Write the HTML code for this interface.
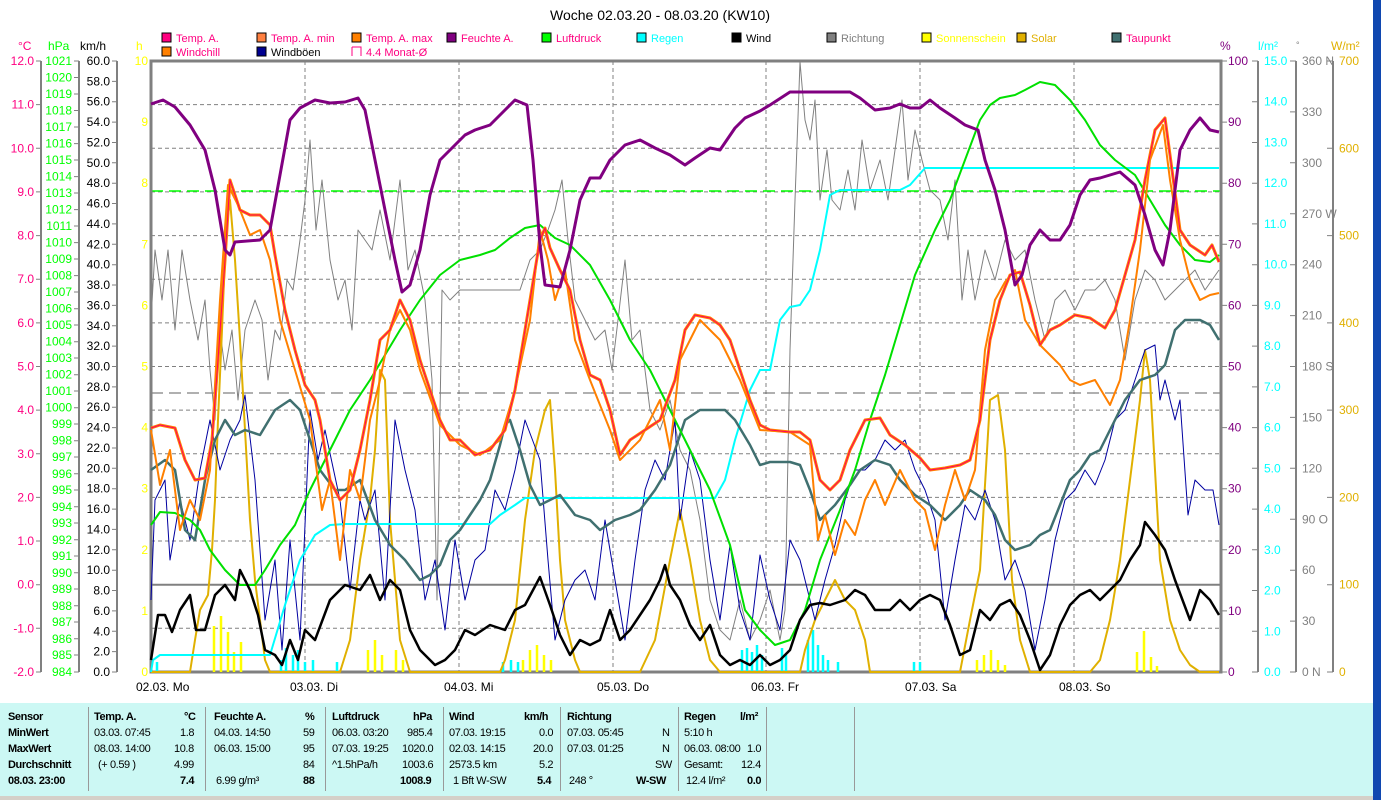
<!DOCTYPE html>
<html><head><meta charset="utf-8"><style>
body{margin:0;background:#fff;width:1381px;height:800px;overflow:hidden;font-family:"Liberation Sans",sans-serif}
svg{position:absolute;left:0;top:0}
#tbl{position:absolute;left:0;top:703px;width:1373px;height:93px;background:#ccf8f4;font-size:11px;color:#000;letter-spacing:-0.4px}
#tbl div{position:absolute;white-space:nowrap}
.b{font-weight:bold}
.sep{width:1px;background:#999;top:4px;height:84px}
</style></head><body>
<svg width="1381" height="800" xmlns="http://www.w3.org/2000/svg" font-family="Liberation Sans, sans-serif" font-size="12">
<rect x="1373" y="0" width="8" height="800" fill="#1048b0"/>
<text x="660" y="20" text-anchor="middle" font-size="14">Woche 02.03.20 - 08.03.20 (KW10)</text>
<g font-size="11">
<rect x="162" y="33" width="9" height="9" fill="#ff0080" stroke="#000"/><text x="176" y="42" fill="#ff0080">Temp. A.</text>
<rect x="257" y="33" width="9" height="9" fill="#ff8040" stroke="#000"/><text x="271" y="42" fill="#ff0080">Temp. A. min</text>
<rect x="352" y="33" width="9" height="9" fill="#ff8000" stroke="#000"/><text x="366" y="42" fill="#ff0080">Temp. A. max</text>
<rect x="447" y="33" width="9" height="9" fill="#800080" stroke="#000"/><text x="461" y="42" fill="#ff0080">Feuchte A.</text>
<rect x="542" y="33" width="9" height="9" fill="#00ff00" stroke="#000"/><text x="556" y="42" fill="#ff0080">Luftdruck</text>
<rect x="637" y="33" width="9" height="9" fill="#00ffff" stroke="#000"/><text x="651" y="42" fill="#00ffff">Regen</text>
<rect x="732" y="33" width="9" height="9" fill="#000" stroke="#000"/><text x="746" y="42" fill="#000">Wind</text>
<rect x="827" y="33" width="9" height="9" fill="#808080" stroke="#000"/><text x="841" y="42" fill="#808080">Richtung</text>
<rect x="922" y="33" width="9" height="9" fill="#ffff00" stroke="#000"/><text x="936" y="42" fill="#ffff00">Sonnenschein</text>
<rect x="1017" y="33" width="9" height="9" fill="#e0b000" stroke="#000"/><text x="1031" y="42" fill="#e0b000">Solar</text>
<rect x="1112" y="33" width="9" height="9" fill="#407070" stroke="#000"/><text x="1126" y="42" fill="#ff0080">Taupunkt</text>
<rect x="162" y="47" width="9" height="9" fill="#ff8000" stroke="#000"/><text x="176" y="56" fill="#ff0080">Windchill</text>
<rect x="257" y="47" width="9" height="9" fill="#000090" stroke="#000"/><text x="271" y="56" fill="#000">Windböen</text>
<path d="M352 47 h9 v9 M352 47 v9" fill="none" stroke="#ff0080"/><text x="366" y="56" fill="#ff0080">4.4 Monat-Ø</text>
</g>
<text x="18" y="50" fill="#ff0080">°C</text><text x="48" y="50" fill="#00ff00">hPa</text><text x="80" y="50" fill="#000">km/h</text><text x="136" y="50" fill="#ffff00">h</text>
<text x="1220" y="50" fill="#800080">%</text><text x="1258" y="50" fill="#00ffff">l/m²</text><text x="1296" y="48" fill="#808080" font-size="9">°</text><text x="1331" y="50" fill="#e0b000">W/m²</text>
<g stroke="#808080" stroke-width="2" fill="none">
<line x1="41" y1="61" x2="41" y2="672"/><line x1="79" y1="61" x2="79" y2="672"/><line x1="117" y1="61" x2="117" y2="672"/>
<line x1="1258" y1="61" x2="1258" y2="672"/><line x1="1296" y1="61" x2="1296" y2="672"/><line x1="1333" y1="61" x2="1333" y2="672"/>
</g>
<g stroke="#808080" stroke-width="1">
<path d="M36 61h5M36 104.6h5M36 148.3h5M36 191.9h5M36 235.6h5M36 279.2h5M36 322.9h5M36 366.5h5M36 410.1h5M36 453.8h5M36 497.4h5M36 541h5M36 584.7h5M36 628.3h5M36 672h5"/>
<path d="M74 61h5M74 77.5h5M74 94h5M74 110.5h5M74 127h5M74 143.6h5M74 160h5M74 176.6h5M74 193h5M74 209.6h5M74 226h5M74 242.6h5M74 259h5M74 275.6h5M74 292h5M74 308.7h5M74 325h5M74 341.7h5M74 358h5M74 374.7h5M74 391h5M74 407.7h5M74 424h5M74 440.7h5M74 457h5M74 473.8h5M74 490h5M74 506.8h5M74 523h5M74 539.8h5M74 556h5M74 572.8h5M74 589h5M74 605.8h5M74 622h5M74 638.8h5M74 655h5M74 672h5"/>
<path d="M112 61h5M112 81.4h5M112 101.7h5M112 122.1h5M112 142.5h5M112 162.8h5M112 183.2h5M112 203.5h5M112 223.9h5M112 244.3h5M112 264.7h5M112 285h5M112 305.4h5M112 325.8h5M112 346.1h5M112 366.5h5M112 386.9h5M112 407.2h5M112 427.6h5M112 448h5M112 468.3h5M112 488.7h5M112 509.1h5M112 529.4h5M112 549.8h5M112 570.2h5M112 590.5h5M112 610.9h5M112 631.3h5M112 651.6h5M112 672h5"/>
<path d="M1221 61h6M1221 122.1h6M1221 183.2h6M1221 244.3h6M1221 305.4h6M1221 366.5h6M1221 427.6h6M1221 488.7h6M1221 549.8h6M1221 610.9h6M1221 672h6"/>
<path d="M1252 61h6M1252 101.7h6M1252 142.5h6M1252 183.2h6M1252 223.9h6M1252 264.7h6M1252 305.4h6M1252 346.1h6M1252 386.9h6M1252 427.6h6M1252 468.3h6M1252 509.1h6M1252 549.8h6M1252 590.5h6M1252 631.3h6M1252 672h6"/>
<path d="M1290 61h6M1290 111.9h6M1290 162.8h6M1290 213.8h6M1290 264.7h6M1290 315.6h6M1290 366.5h6M1290 417.4h6M1290 468.3h6M1290 519.3h6M1290 570.2h6M1290 621.1h6M1290 672h6"/>
<path d="M1327 61h6M1327 148.3h6M1327 235.6h6M1327 322.9h6M1327 410.1h6M1327 497.4h6M1327 584.7h6M1327 672h6"/>
</g>
<g fill="#ff0080" text-anchor="end">
<text x="34" y="65">12.0</text><text x="34" y="108.6">11.0</text><text x="34" y="152.3">10.0</text><text x="34" y="195.9">9.0</text><text x="34" y="239.6">8.0</text><text x="34" y="283.2">7.0</text><text x="34" y="326.9">6.0</text><text x="34" y="370.5">5.0</text><text x="34" y="414.1">4.0</text><text x="34" y="457.8">3.0</text><text x="34" y="501.4">2.0</text><text x="34" y="545">1.0</text><text x="34" y="588.7">0.0</text><text x="34" y="632.3">-1.0</text><text x="34" y="676">-2.0</text>
</g>
<g fill="#00ff00" text-anchor="end">
<text x="72" y="65">1021</text><text x="72" y="81.5">1020</text><text x="72" y="98">1019</text><text x="72" y="114.5">1018</text><text x="72" y="131">1017</text><text x="72" y="147.6">1016</text><text x="72" y="164">1015</text><text x="72" y="180.6">1014</text><text x="72" y="197">1013</text><text x="72" y="213.6">1012</text><text x="72" y="230">1011</text><text x="72" y="246.6">1010</text><text x="72" y="263">1009</text><text x="72" y="279.6">1008</text><text x="72" y="296">1007</text><text x="72" y="312.7">1006</text><text x="72" y="329">1005</text><text x="72" y="345.7">1004</text><text x="72" y="362">1003</text><text x="72" y="378.7">1002</text><text x="72" y="395">1001</text><text x="72" y="411.7">1000</text><text x="72" y="428">999</text><text x="72" y="444.7">998</text><text x="72" y="461">997</text><text x="72" y="477.8">996</text><text x="72" y="494">995</text><text x="72" y="510.8">994</text><text x="72" y="527">993</text><text x="72" y="543.8">992</text><text x="72" y="560">991</text><text x="72" y="576.8">990</text><text x="72" y="593">989</text><text x="72" y="609.8">988</text><text x="72" y="626">987</text><text x="72" y="642.8">986</text><text x="72" y="659">985</text><text x="72" y="676">984</text>
</g>
<g fill="#000" text-anchor="end">
<text x="110" y="65">60.0</text><text x="110" y="85.4">58.0</text><text x="110" y="105.7">56.0</text><text x="110" y="126.1">54.0</text><text x="110" y="146.5">52.0</text><text x="110" y="166.8">50.0</text><text x="110" y="187.2">48.0</text><text x="110" y="207.5">46.0</text><text x="110" y="227.9">44.0</text><text x="110" y="248.3">42.0</text><text x="110" y="268.7">40.0</text><text x="110" y="289">38.0</text><text x="110" y="309.4">36.0</text><text x="110" y="329.8">34.0</text><text x="110" y="350.1">32.0</text><text x="110" y="370.5">30.0</text><text x="110" y="390.9">28.0</text><text x="110" y="411.2">26.0</text><text x="110" y="431.6">24.0</text><text x="110" y="452">22.0</text><text x="110" y="472.3">20.0</text><text x="110" y="492.7">18.0</text><text x="110" y="513.1">16.0</text><text x="110" y="533.4">14.0</text><text x="110" y="553.8">12.0</text><text x="110" y="574.2">10.0</text><text x="110" y="594.5">8.0</text><text x="110" y="614.9">6.0</text><text x="110" y="635.3">4.0</text><text x="110" y="655.6">2.0</text><text x="110" y="676">0.0</text>
</g>
<g fill="#ffff00" text-anchor="end">
<text x="148" y="65">10</text><text x="148" y="126.1">9</text><text x="148" y="187.2">8</text><text x="148" y="248.3">7</text><text x="148" y="309.4">6</text><text x="148" y="370.5">5</text><text x="148" y="431.6">4</text><text x="148" y="492.7">3</text><text x="148" y="553.8">2</text><text x="148" y="614.9">1</text><text x="148" y="676">0</text>
</g>
<g fill="#800080">
<text x="1228" y="65">100</text><text x="1228" y="126.1">90</text><text x="1228" y="187.2">80</text><text x="1228" y="248.3">70</text><text x="1228" y="309.4">60</text><text x="1228" y="370.5">50</text><text x="1228" y="431.6">40</text><text x="1228" y="492.7">30</text><text x="1228" y="553.8">20</text><text x="1228" y="614.9">10</text><text x="1228" y="676">0</text>
</g>
<g fill="#00ffff">
<text x="1264" y="65">15.0</text><text x="1264" y="105.7">14.0</text><text x="1264" y="146.5">13.0</text><text x="1264" y="187.2">12.0</text><text x="1264" y="227.9">11.0</text><text x="1264" y="268.7">10.0</text><text x="1264" y="309.4">9.0</text><text x="1264" y="350.1">8.0</text><text x="1264" y="390.9">7.0</text><text x="1264" y="431.6">6.0</text><text x="1264" y="472.3">5.0</text><text x="1264" y="513.1">4.0</text><text x="1264" y="553.8">3.0</text><text x="1264" y="594.5">2.0</text><text x="1264" y="635.3">1.0</text><text x="1264" y="676">0.0</text>
</g>
<g fill="#808080">
<text x="1302" y="65">360 N</text><text x="1302" y="115.9">330</text><text x="1302" y="166.8">300</text><text x="1302" y="217.8">270 W</text><text x="1302" y="268.7">240</text><text x="1302" y="319.6">210</text><text x="1302" y="370.5">180 S</text><text x="1302" y="421.4">150</text><text x="1302" y="472.3">120</text><text x="1302" y="523.3">90  O</text><text x="1302" y="574.2">60</text><text x="1302" y="625.1">30</text><text x="1302" y="676">0   N</text>
</g>
<g fill="#e0b000">
<text x="1339" y="65">700</text><text x="1339" y="152.3">600</text><text x="1339" y="239.6">500</text><text x="1339" y="326.9">400</text><text x="1339" y="414.1">300</text><text x="1339" y="501.4">200</text><text x="1339" y="588.7">100</text><text x="1339" y="676">0</text>
</g>
<g fill="#000">
<text x="136" y="691">02.03.  Mo</text><text x="290" y="691">03.03.  Di</text><text x="444" y="691">04.03.  Mi</text><text x="597" y="691">05.03.  Do</text><text x="751" y="691">06.03.  Fr</text><text x="905" y="691">07.03.  Sa</text><text x="1059" y="691">08.03.  So</text>
</g>
<g stroke="#808080" stroke-width="1" stroke-dasharray="4,3">
<path d="M151 104.6H1221M151 148.3H1221M151 191.9H1221M151 235.6H1221M151 279.2H1221M151 322.9H1221M151 366.5H1221M151 410.1H1221M151 453.8H1221M151 497.4H1221M151 541H1221M151 628.3H1221"/>
<path d="M305 61V672M459 61V672M613 61V672M766 61V672M920 61V672M1074 61V672"/>
</g>
<line x1="151" y1="584.7" x2="1221" y2="584.7" stroke="#808080" stroke-width="2"/>
<line x1="151" y1="393" x2="1221" y2="393" stroke="#606060" stroke-width="1" stroke-dasharray="12,6"/>
<line x1="151" y1="191" x2="1221" y2="191" stroke="#00ff00" stroke-width="1.5" stroke-dasharray="12,6"/>
<rect x="151" y="61" width="1070" height="611" fill="none" stroke="#808080" stroke-width="3"/>
<g stroke="#ffff00" stroke-width="2.5">
<path d="M214 672V626M221 672V616M228 672V632M234 672V652M241 672V642M368 672V650M375 672V640M382 672V655M396 672V650M403 672V660M523 672V660M530 672V650M537 672V645M544 672V655M551 672V660M977 672V660M984 672V655M991 672V650M998 672V660M1005 672V665M1137 672V652M1144 672V631M1151 672V657M1157 672V666"/>
</g>
<g stroke="#00ffff" stroke-width="2.5">
<path d="M157 672V662M281 672V660M286 672V648M293 672V655M298 672V650M305 672V662M313 672V660M337 672V662M503 672V662M511 672V660M518 672V662M742 672V650M747 672V648M752 672V652M757 672V645M762 672V655M782 672V648M786 672V655M808 672V640M813 672V630M818 672V645M823 672V655M828 672V660M838 672V662M914 672V662M920 672V662"/>
</g>
<g fill="none" stroke-linejoin="round">
<polyline stroke="#808080" stroke-width="1" points="151,320 155,250 162,300 168,250 175,330 182,250 190,300 198,340 205,300 210,370 215,420 220,330 225,370 232,330 238,400 245,330 255,300 262,320 268,380 275,330 280,340 287,280 293,290 300,240 305,200 310,140 316,230 322,180 330,260 338,300 345,280 352,330 358,230 365,240 372,250 380,210 390,260 400,180 408,270 415,250 425,300 432,380 437,600 442,290 450,300 460,290 500,290 520,290 530,260 540,250 548,230 555,210 562,180 568,240 575,300 585,320 595,340 605,330 612,370 618,320 625,260 632,340 640,330 650,410 660,430 670,400 680,450 690,470 700,520 710,600 720,630 730,640 740,600 750,640 760,620 770,590 780,640 785,610 790,350 795,200 800,62 805,120 810,140 815,100 820,200 827,150 832,200 840,210 848,170 855,210 862,140 870,190 880,160 888,200 895,150 902,100 908,180 915,130 922,160 930,190 940,200 948,240 955,180 962,300 968,250 975,300 985,250 995,280 1005,240 1015,260 1025,250 1035,300 1045,340 1055,300 1065,290 1075,310 1085,290 1095,290 1105,280 1115,300 1125,360 1135,300 1145,270 1155,280 1165,300 1175,290 1185,280 1195,270 1205,290 1219,270"/>
<polyline stroke="#e0b000" stroke-width="2" points="151,672 190,672 195,640 200,610 208,595 212,550 215,500 218,420 222,330 226,230 230,200 235,260 240,340 245,430 250,520 255,580 260,620 265,660 270,672 340,672 350,640 360,560 370,500 375,450 380,370 385,380 390,520 400,640 410,672 500,672 505,660 515,620 525,520 535,450 545,410 550,400 555,470 560,560 565,620 575,660 580,672 640,672 655,640 670,560 680,510 690,560 700,620 710,660 720,672 800,672 805,650 815,620 825,600 835,580 845,600 855,610 865,640 870,672 960,672 970,620 980,570 990,400 998,395 1005,450 1012,580 1020,640 1030,672 1090,672 1100,660 1110,620 1120,560 1130,480 1140,400 1145,350 1150,380 1155,470 1160,560 1170,620 1180,650 1190,665 1200,672 1219,672"/>
<polyline stroke="#0000a0" stroke-width="1" points="151,600 155,500 165,480 170,560 180,500 190,540 200,470 210,420 220,470 230,440 240,420 245,395 255,480 265,620 275,560 282,650 290,540 300,640 310,410 318,460 325,430 340,500 350,590 360,500 365,520 375,490 385,600 395,420 405,470 415,510 425,600 435,560 445,630 455,540 465,600 475,560 485,550 495,490 505,510 515,470 525,420 540,460 548,560 555,640 565,600 575,580 585,570 595,600 605,520 615,580 625,640 635,560 645,490 655,460 665,480 675,420 680,520 690,450 700,480 710,560 720,620 730,545 740,610 750,640 760,555 770,600 780,630 790,540 800,560 810,600 815,620 825,580 835,545 845,500 855,470 865,470 875,460 885,440 895,450 905,440 915,470 925,490 935,520 945,620 955,560 965,505 975,520 985,490 995,520 1005,580 1015,560 1025,590 1035,650 1045,600 1055,540 1065,500 1075,490 1085,470 1095,485 1105,460 1115,420 1125,410 1135,380 1145,350 1155,345 1160,400 1165,380 1175,420 1180,400 1188,515 1195,480 1205,490 1213,490 1219,525"/>
<polyline stroke="#00ffff" stroke-width="2" points="151,672 153,660 160,655 270,655 285,605 300,560 315,535 330,525 345,524 490,524 500,515 515,505 525,498 715,498 725,480 735,440 750,390 760,370 770,370 780,320 790,307 800,305 810,290 820,250 830,195 840,190 900,190 910,185 925,168 1219,168"/>
<polyline stroke="#407070" stroke-width="2.5" points="151,470 165,460 175,470 185,530 195,540 205,480 215,440 225,420 235,435 245,430 260,435 275,410 290,400 300,410 310,440 320,470 335,490 345,490 360,480 375,520 390,545 405,560 420,580 430,575 440,565 450,540 460,530 470,515 480,500 490,480 500,445 505,425 510,420 520,450 530,485 540,505 550,500 560,495 575,515 590,520 600,530 615,520 630,515 640,510 655,490 670,465 685,420 700,410 725,410 735,420 750,445 760,465 770,462 790,462 800,465 810,490 820,520 835,505 850,485 860,470 875,460 890,465 900,480 915,495 930,505 945,520 960,505 970,490 985,500 995,515 1005,540 1015,550 1030,545 1040,535 1050,530 1060,505 1070,480 1080,470 1090,455 1100,450 1110,430 1125,400 1140,380 1155,375 1165,365 1175,330 1185,320 1200,320 1210,325 1219,340"/>
<polyline stroke="#00e000" stroke-width="2" points="151,525 160,512 175,513 190,520 200,530 210,550 225,570 240,585 255,585 265,570 280,545 295,525 310,490 330,450 350,410 370,380 385,355 400,330 420,300 440,275 460,260 480,255 495,250 510,238 525,228 540,225 555,238 570,245 590,265 610,300 630,340 650,370 670,410 690,450 710,490 730,545 745,610 760,630 775,645 790,640 805,610 820,560 840,510 855,470 870,420 885,375 900,325 915,275 935,230 950,200 965,160 980,120 990,105 1000,98 1015,95 1025,90 1040,82 1055,85 1070,100 1085,120 1100,145 1115,160 1135,175 1150,200 1165,225 1180,245 1195,260 1210,262 1219,255"/>
<polyline stroke="#000" stroke-width="2.5" points="151,660 158,615 165,615 172,632 180,610 190,595 196,630 205,630 215,595 225,585 235,600 240,570 250,590 258,615 265,650 275,655 282,665 290,640 298,660 305,630 315,640 330,600 345,585 360,590 370,575 380,600 390,580 400,590 410,630 420,650 435,665 445,660 455,650 465,630 475,635 490,625 505,630 515,610 525,605 540,577 550,605 560,635 570,655 580,640 590,645 600,640 610,610 620,640 630,630 640,615 650,600 660,580 665,565 670,585 680,600 690,625 700,640 710,625 720,655 730,665 740,660 750,665 760,655 770,665 780,660 790,650 800,620 810,605 820,603 830,605 845,600 855,590 865,595 875,610 890,610 900,600 910,610 920,600 930,595 940,600 950,625 960,655 970,650 980,610 990,620 1000,605 1010,600 1020,615 1030,640 1040,670 1050,655 1060,625 1070,605 1080,595 1090,590 1100,600 1110,590 1120,580 1130,560 1140,545 1145,522 1155,535 1165,550 1175,580 1190,620 1200,590 1210,600 1219,615"/>
<polyline stroke="#ff8000" stroke-width="2" points="151,430 160,485 170,450 180,530 190,500 200,520 210,470 220,300 228,185 238,205 250,235 260,230 270,260 280,320 295,370 310,420 322,510 330,480 340,560 350,470 360,500 370,420 380,380 390,330 400,310 410,330 420,370 440,425 460,445 480,455 500,440 515,390 530,320 540,230 548,260 555,300 565,270 575,340 590,380 610,430 620,460 640,440 660,400 670,450 680,360 690,340 700,320 710,330 720,340 740,380 760,430 790,432 810,445 818,540 825,515 835,555 845,520 855,535 865,500 875,480 885,505 900,470 915,500 925,510 935,550 945,505 955,470 965,500 975,470 985,350 995,300 1005,282 1015,270 1025,320 1040,345 1050,355 1060,365 1070,380 1080,385 1095,380 1110,405 1120,380 1130,320 1140,250 1150,160 1163,125 1170,180 1180,240 1190,280 1200,300 1210,295 1219,293"/>
<polyline stroke="#ff8000" stroke-width="3" points="151,428 160,425 175,428 185,460 195,480 205,478 212,440 218,360 225,260 230,180 240,210 250,215 260,215 270,225 275,255 285,310 295,350 305,385 315,400 320,420 330,480 340,500 350,490 360,450 370,400 380,340 390,330 400,300 410,320 420,360 430,390 440,420 450,440 460,440 475,455 490,450 505,430 515,390 525,330 540,240 545,228 550,248 560,270 570,290 580,340 590,375 600,380 610,410 620,455 630,440 645,430 660,420 675,380 685,330 695,315 710,318 720,325 730,340 740,370 750,400 760,425 770,430 790,432 800,432 810,440 820,480 830,490 840,480 850,450 865,420 880,418 890,435 905,445 920,458 930,470 945,468 960,465 970,460 980,420 990,340 1000,300 1010,275 1020,272 1030,305 1040,345 1050,330 1060,325 1075,315 1090,318 1105,328 1115,310 1125,275 1135,240 1145,180 1155,130 1165,118 1170,155 1180,230 1190,245 1205,255 1212,245 1219,262"/>
<polyline stroke="#ff0060" stroke-width="1" points="151,428 160,425 175,428 185,460 195,480 205,478 212,440 218,360 225,260 230,180 240,210 250,215 260,215 270,225 275,255 285,310 295,350 305,385 315,400 320,420 330,480 340,500 350,490 360,450 370,400 380,340 390,330 400,300 410,320 420,360 430,390 440,420 450,440 460,440 475,455 490,450 505,430 515,390 525,330 540,240 545,228 550,248 560,270 570,290 580,340 590,375 600,380 610,410 620,455 630,440 645,430 660,420 675,380 685,330 695,315 710,318 720,325 730,340 740,370 750,400 760,425 770,430 790,432 800,432 810,440 820,480 830,490 840,480 850,450 865,420 880,418 890,435 905,445 920,458 930,470 945,468 960,465 970,460 980,420 990,340 1000,300 1010,275 1020,272 1030,305 1040,345 1050,330 1060,325 1075,315 1090,318 1105,328 1115,310 1125,275 1135,240 1145,180 1155,130 1165,118 1170,155 1180,230 1190,245 1205,255 1212,245 1219,262"/>
<polyline stroke="#800080" stroke-width="3" points="151,104 163,100 175,107 190,125 205,150 215,190 225,250 230,255 235,242 260,240 270,230 280,175 290,120 300,108 315,100 330,103 345,102 358,98 365,110 375,160 385,210 395,260 402,292 410,285 420,250 430,195 440,160 455,145 465,135 475,130 490,125 505,110 515,100 527,105 533,160 540,245 545,285 560,287 570,250 580,200 590,178 600,178 610,160 625,145 640,140 655,148 670,155 685,165 695,158 710,148 720,150 735,128 745,118 760,111 770,105 790,92 850,92 860,98 875,110 890,108 900,104 910,108 920,108 930,100 940,108 955,118 965,125 978,130 985,160 995,190 1005,230 1015,285 1022,275 1030,245 1040,230 1050,240 1060,240 1070,225 1080,195 1090,180 1100,178 1110,175 1120,172 1135,185 1145,215 1155,250 1163,265 1170,230 1180,150 1190,130 1200,118 1210,130 1219,132"/>
</g>
<rect x="0" y="796" width="1373" height="4" fill="#d4d0c8"/>
</svg>
<div id="tbl">
<div class="sep" style="left:88px"></div><div class="sep" style="left:205px"></div><div class="sep" style="left:325px"></div><div class="sep" style="left:443px"></div><div class="sep" style="left:560px"></div><div class="sep" style="left:678px"></div><div class="sep" style="left:766px"></div><div class="sep" style="left:854px"></div>
<div class="b" style="left:8px;top:8px">Sensor</div><div class="b" style="left:8px;top:24px">MinWert</div><div class="b" style="left:8px;top:40px">MaxWert</div><div class="b" style="left:8px;top:56px">Durchschnitt</div><div class="b" style="left:8px;top:72px">08.03. 23:00</div>
<div class="b" style="left:94px;top:8px">Temp. A.</div><div class="b" style="left:184px;top:8px">°C</div>
<div style="left:94px;top:24px">03.03. 07:45</div><div style="left:180px;top:24px">1.8</div>
<div style="left:94px;top:40px">08.03. 14:00</div><div style="left:174px;top:40px">10.8</div>
<div style="left:98px;top:56px">(+ 0.59 )</div><div style="left:174px;top:56px">4.99</div>
<div class="b" style="left:180px;top:72px">7.4</div>
<div class="b" style="left:214px;top:8px">Feuchte A.</div><div class="b" style="left:305px;top:8px">%</div>
<div style="left:214px;top:24px">04.03. 14:50</div><div style="left:303px;top:24px">59</div>
<div style="left:214px;top:40px">06.03. 15:00</div><div style="left:303px;top:40px">95</div>
<div style="left:303px;top:56px">84</div>
<div style="left:216px;top:72px">6.99 g/m³</div><div class="b" style="left:303px;top:72px">88</div>
<div class="b" style="left:332px;top:8px">Luftdruck</div><div class="b" style="left:413px;top:8px">hPa</div>
<div style="left:332px;top:24px">06.03. 03:20</div><div style="left:407px;top:24px">985.4</div>
<div style="left:332px;top:40px">07.03. 19:25</div><div style="left:402px;top:40px">1020.0</div>
<div style="left:332px;top:56px">^1.5hPa/h</div><div style="left:402px;top:56px">1003.6</div>
<div class="b" style="left:400px;top:72px">1008.9</div>
<div class="b" style="left:449px;top:8px">Wind</div><div class="b" style="left:524px;top:8px">km/h</div>
<div style="left:449px;top:24px">07.03. 19:15</div><div style="left:539px;top:24px">0.0</div>
<div style="left:449px;top:40px">02.03. 14:15</div><div style="left:533px;top:40px">20.0</div>
<div style="left:449px;top:56px">2573.5 km</div><div style="left:539px;top:56px">5.2</div>
<div style="left:453px;top:72px">1 Bft W-SW</div><div class="b" style="left:537px;top:72px">5.4</div>
<div class="b" style="left:567px;top:8px">Richtung</div>
<div style="left:567px;top:24px">07.03. 05:45</div><div style="left:662px;top:24px">N</div>
<div style="left:567px;top:40px">07.03. 01:25</div><div style="left:662px;top:40px">N</div>
<div style="left:655px;top:56px">SW</div>
<div style="left:569px;top:72px">248 °</div><div class="b" style="left:636px;top:72px">W-SW</div>
<div class="b" style="left:684px;top:8px">Regen</div><div class="b" style="left:740px;top:8px">l/m²</div>
<div style="left:684px;top:24px">5:10 h</div>
<div style="left:684px;top:40px">06.03. 08:00</div><div style="left:747px;top:40px">1.0</div>
<div style="left:684px;top:56px">Gesamt:</div><div style="left:741px;top:56px">12.4</div>
<div style="left:686px;top:72px">12.4 l/m²</div><div class="b" style="left:747px;top:72px">0.0</div>
</div>
</body></html>
